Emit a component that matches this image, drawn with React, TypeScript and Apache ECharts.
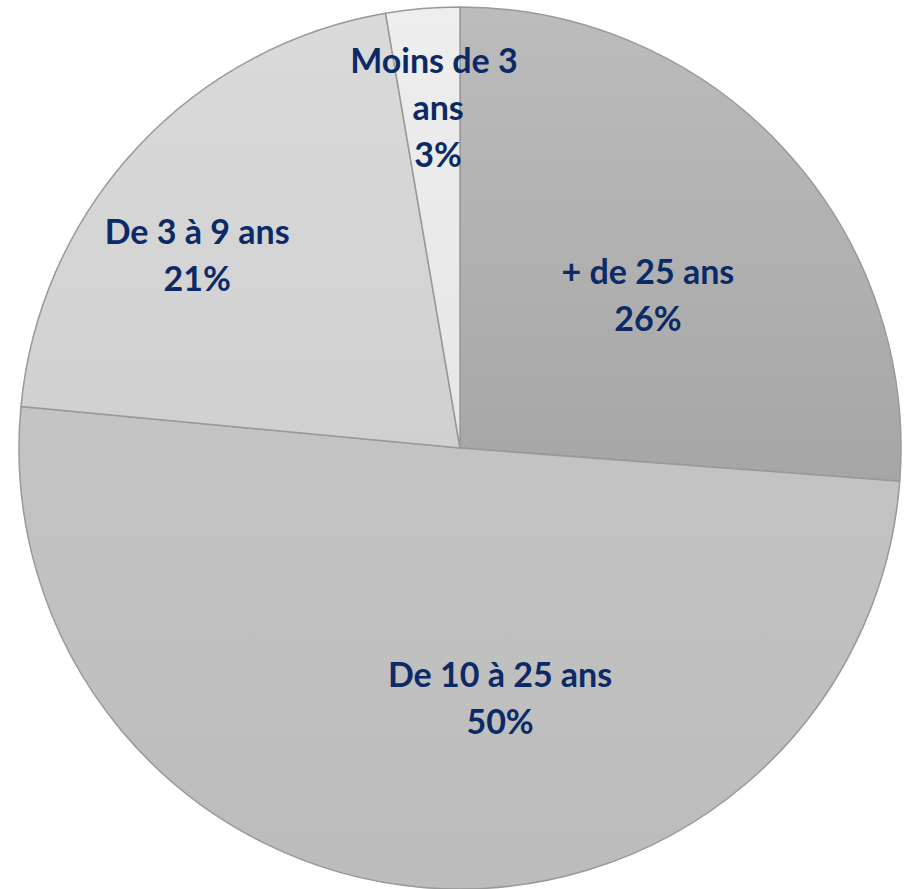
import React, { useEffect, useRef } from "react";
import * as echarts from "echarts";

const categories = ["+ de 25 ans", "De 10 à 25 ans", "De 3 à 9 ans", "Moins de 3 ans"];
const values = [26.2, 50.3, 20.8, 2.7];
const colorsTop = ["#bcbcbc", "#c4c4c4", "#dadada", "#eeeeee"];
const colorsBottom = ["#a6a6a6", "#bcbcbc", "#d0d0d0", "#e6e6e6"];
const labelOffsets = [
  [24, -2],
  [59, 26],
  [-99, -42],
  [-3, -119],
];

export default function App() {
  const ref = useRef<HTMLDivElement>(null);
  useEffect(() => {
    if (!ref.current) return;
    const chart = echarts.init(ref.current, undefined, { renderer: "svg" });
    chart.setOption({
      animation: false,
      backgroundColor: "#ffffff",
      series: [
        {
          type: "pie",
          center: [460, 448],
          radius: 441,
          startAngle: 90,
          clockwise: true,
          percentPrecision: 0,
          avoidLabelOverlap: false,
          label: {
            show: true,
            position: "inside",
            formatter: "{b}\n{d}%",
            color: "#0b2a66",
            fontFamily: "Lato",
            fontWeight: "bold",
            fontSize: 34,
            lineHeight: 47,
            align: "center",
          },
          labelLine: { show: false },
          emphasis: { disabled: true },
          labelLayout: (p: any) => ({
            dx: labelOffsets[p.dataIndex][0],
            dy: labelOffsets[p.dataIndex][1],
          }),
          data: categories.map((name, i) => ({
            name,
            value: values[i],
            itemStyle: {
              color: new echarts.graphic.LinearGradient(0, 0, 0, 1, [
                { offset: 0, color: colorsTop[i] },
                { offset: 1, color: colorsBottom[i] },
              ]),
              borderColor: "#999999",
              borderWidth: 1.5,
            },
            label:
              i === 3
                ? { width: 190, overflow: "break" }
                : undefined,
          })),
        },
      ],
    });
    return () => chart.dispose();
  }, []);
  return (
    <div
      ref={ref}
      style={{ position: "absolute", left: 0, top: 0, width: 908, height: 889 }}
    />
  );
}
